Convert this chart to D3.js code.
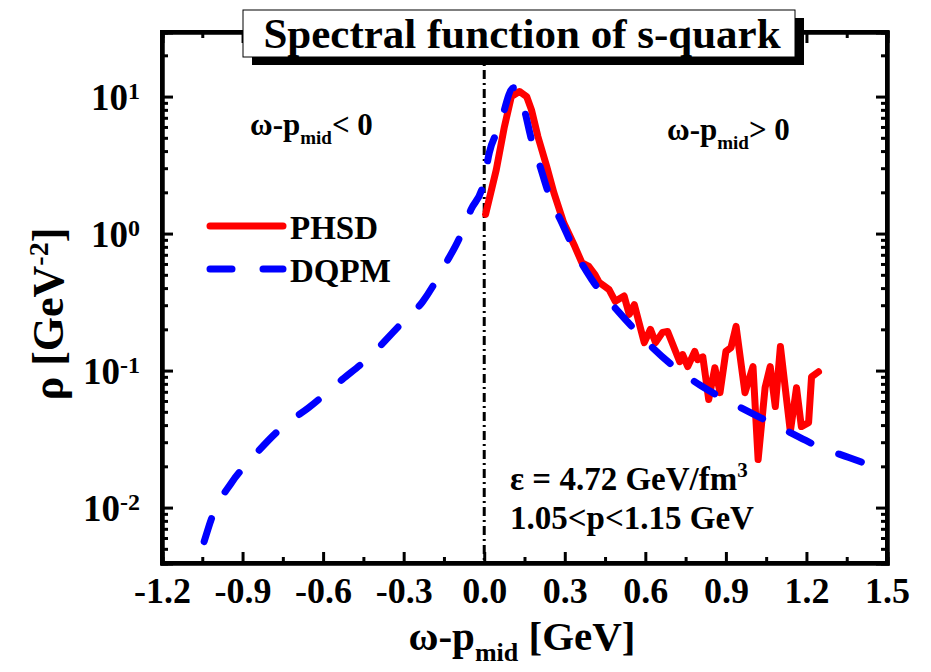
<!DOCTYPE html>
<meta charset="utf-8">
<style>
body { margin: 0; background: #fff; }
text { font-family: "Liberation Serif", "Times New Roman", serif; font-weight: bold; fill: #000; }
.axis path, .axis line { stroke: #000; stroke-width: 3; }
.axis .domain { stroke-width: 4; }
</style>
<svg width="931" height="672"></svg>
<script src="https://cdnjs.cloudflare.com/ajax/libs/d3/7.8.5/d3.min.js"></script>
<script>

// DQPM spectral function (dashed blue)
var dqpmX = [-1.043, -1.013, -0.941, -0.866, -0.75, -0.653, -0.529, -0.435, -0.319, -0.229,
  -0.14, -0.09, -0.049, -0.004, 0.019, 0.056, 0.109, 0.146, 0.176, 0.206, 0.244, 0.289,
  0.345, 0.401, 0.503, 0.589, 0.701, 0.806, 0.919, 1.028, 1.14, 1.245, 1.358, 1.463, 1.5];
var dqpmY = [0.00565, 0.0086, 0.0152, 0.0228, 0.039, 0.0537, 0.086, 0.122, 0.21, 0.319,
  0.62, 0.95, 1.5, 2.28, 3.9, 6.0, 11.6, 8.45, 4.85, 3.19, 1.86, 1.2,
  0.70, 0.46, 0.265, 0.174, 0.109, 0.0778, 0.0584, 0.0454, 0.0352, 0.0279, 0.0232, 0.0196, 0.0186];

// PHSD spectral function (solid red)
var phsdX = [0.005, 0.045, 0.075, 0.101, 0.131, 0.158, 0.176, 0.2, 0.233, 0.259, 0.296, 0.338,
  0.364, 0.39, 0.413, 0.428, 0.45, 0.465, 0.488, 0.521, 0.54, 0.559, 0.596, 0.619, 0.638,
  0.664, 0.683, 0.728, 0.739, 0.758, 0.784, 0.795, 0.814, 0.836, 0.859, 0.878, 0.9, 0.919,
  0.938, 0.971, 1.001, 1.02, 1.046, 1.065, 1.084, 1.103, 1.14, 1.163, 1.181, 1.208, 1.219, 1.245];
var phsdY = [1.38, 2.93, 6.0, 10.0, 10.9, 10.0, 8.0, 5.1, 3.08, 2.0, 1.2, 0.80,
  0.61, 0.575, 0.50, 0.44, 0.41, 0.39, 0.32, 0.35, 0.257, 0.303, 0.16, 0.2, 0.16,
  0.19, 0.193, 0.116, 0.131, 0.107, 0.138, 0.12, 0.126, 0.0615, 0.105, 0.069, 0.138, 0.147,
  0.21, 0.069, 0.107, 0.0224, 0.075, 0.107, 0.0546, 0.15, 0.0359, 0.075, 0.039, 0.0417, 0.09, 0.098];

var xTicks = [-1.2, -0.9, -0.6, -0.3, 0.0, 0.3, 0.6, 0.9, 1.2, 1.5];
var yTicks = [1e-2, 1e-1, 1e0, 1e1];
var yExps = ["-2", "-1", "0", "1"];

var svg = d3.select("svg"),
    margin = {top: 32, right: 44, bottom: 109, left: 162},
    width = +svg.attr("width") - margin.left - margin.right,
    height = +svg.attr("height") - margin.top - margin.bottom,
    g = svg.append("g").attr("transform", "translate(" + margin.left + "," + margin.top + ")");

var x = d3.scaleLinear().domain([-1.2, 1.5]).range([0, width]);
var y = d3.scaleLog().domain([0.00394, 29.6]).range([height, 0]);

// minor ticks
var xMinor = d3.range(-1.05, 1.5, 0.3).map(function(d) { return +d.toFixed(2); });
var yMinor = [];
[0.001, 0.01, 0.1, 1, 10].forEach(function(b) {
  for (var k = 2; k <= 9; k++) {
    var v = b * k;
    if (v > y.domain()[0] && v < y.domain()[1]) yMinor.push(v);
  }
});

function minorAxis(axis, vals) {
  return axis.tickValues(vals).tickSize(-6).tickFormat("");
}

g.append("g").attr("class", "axis").attr("transform", "translate(0," + height + ")")
  .call(minorAxis(d3.axisBottom(x), xMinor));
g.append("g").attr("class", "axis")
  .call(minorAxis(d3.axisTop(x), xMinor));
g.append("g").attr("class", "axis")
  .call(minorAxis(d3.axisLeft(y), yMinor));
g.append("g").attr("class", "axis").attr("transform", "translate(" + width + ",0)")
  .call(minorAxis(d3.axisRight(y), yMinor));

var xAxis = g.append("g").attr("class", "axis").attr("transform", "translate(0," + height + ")")
  .call(d3.axisBottom(x).tickValues(xTicks).tickSize(-11).tickPadding(14)
    .tickFormat(function(d) { return d.toFixed(1); }));
xAxis.selectAll("text").style("font-size", "36px");
g.append("g").attr("class", "axis")
  .call(d3.axisTop(x).tickValues(xTicks).tickSize(-11).tickFormat(""));

var yAxis = g.append("g").attr("class", "axis")
  .call(d3.axisLeft(y).tickValues(yTicks).tickSize(-11).tickPadding(14).tickFormat(""));
yAxis.selectAll(".tick").append("text")
  .attr("x", -22).attr("dy", "0.35em").attr("text-anchor", "end")
  .style("font-size", "37px")
  .each(function(d, i) {
    var t = d3.select(this);
    t.append("tspan").text("10");
    t.append("tspan").attr("dy", "-0.45em").style("font-size", "24px").text(yExps[i]);
  });
g.append("g").attr("class", "axis").attr("transform", "translate(" + width + ",0)")
  .call(d3.axisRight(y).tickValues(yTicks).tickSize(-11).tickFormat(""));

// frame on top of ticks
g.append("rect").attr("width", width).attr("height", height)
  .attr("fill", "none").attr("stroke", "#000").attr("stroke-width", 4);

// vertical dash-dot at zero
g.append("line")
  .attr("x1", x(0)).attr("x2", x(0)).attr("y1", 0).attr("y2", height)
  .attr("stroke", "#000").attr("stroke-width", 3)
  .attr("stroke-dasharray", "9,4,2,4");

var line = d3.line()
  .x(function(d) { return x(d[0]); })
  .y(function(d) { return y(d[1]); });

g.append("path")
  .datum(phsdX.map(function(v, i) { return [v, phsdY[i]]; }))
  .attr("d", line)
  .attr("fill", "none").attr("stroke", "#ff0000").attr("stroke-width", 7)
  .attr("stroke-linejoin", "round").attr("stroke-linecap", "round");

g.append("path")
  .datum(dqpmX.map(function(v, i) { return [v, dqpmY[i]]; }))
  .attr("d", line.curve(d3.curveMonotoneX))
  .attr("fill", "none").attr("stroke", "#0000ff").attr("stroke-width", 7)
  .attr("stroke-linecap", "round").attr("stroke-dasharray", "24,30");

// legend
var lg = svg.append("g");
lg.append("line").attr("x1", 210).attr("x2", 283).attr("y1", 226).attr("y2", 226)
  .attr("stroke", "#ff0000").attr("stroke-width", 7).attr("stroke-linecap", "round");
lg.append("line").attr("x1", 210).attr("x2", 283).attr("y1", 269).attr("y2", 269)
  .attr("stroke", "#0000ff").attr("stroke-width", 7).attr("stroke-linecap", "round")
  .attr("stroke-dasharray", "22,31");
lg.append("text").attr("x", 290).attr("y", 239).style("font-size", "33px").text("PHSD");
lg.append("text").attr("x", 290).attr("y", 282).style("font-size", "33px").text("DQPM");

// region labels
function regionLabel(xp, yp, sign) {
  var t = svg.append("text").attr("x", xp).attr("y", yp).style("font-size", "31px");
  t.append("tspan").text("\u03c9-p");
  t.append("tspan").attr("dy", 9).style("font-size", "19px").text("mid");
  t.append("tspan").attr("dy", -9).text(sign + " 0");
}
regionLabel(250, 135, "<");
regionLabel(667, 140, ">");

// conditions
var c1 = svg.append("text").attr("x", 510).attr("y", 490).style("font-size", "33px");
c1.append("tspan").text("\u03b5 = 4.72 GeV/fm");
c1.append("tspan").attr("dy", -13).style("font-size", "21px").text("3");
svg.append("text").attr("x", 510).attr("y", 529).style("font-size", "33px").text("1.05<p<1.15 GeV");

// axis titles
var xl = svg.append("text").attr("x", 522).attr("y", 650).attr("text-anchor", "middle")
  .style("font-size", "41px");
xl.append("tspan").text("\u03c9-p");
xl.append("tspan").attr("dy", 11).style("font-size", "26px").text("mid");
xl.append("tspan").attr("dy", -11).text(" [GeV]");

var yl = svg.append("text").attr("transform", "translate(63,314) rotate(-90)")
  .attr("text-anchor", "middle").style("font-size", "44px");
yl.append("tspan").text("\u03c1 [GeV");
yl.append("tspan").attr("dy", -15).style("font-size", "28px").text("-2");
yl.append("tspan").attr("dy", 15).text("]");

// title box with shadow
svg.append("rect").attr("x", 252).attr("y", 18).attr("width", 552).attr("height", 47).attr("fill", "#000");
svg.append("rect").attr("x", 243).attr("y", 10).attr("width", 552).attr("height", 47)
  .attr("fill", "#fff").attr("stroke", "#000").attr("stroke-width", 1);
svg.append("text").attr("x", 522).attr("y", 48).attr("text-anchor", "middle")
  .style("font-size", "43px").text("Spectral function of s-quark");

</script>
